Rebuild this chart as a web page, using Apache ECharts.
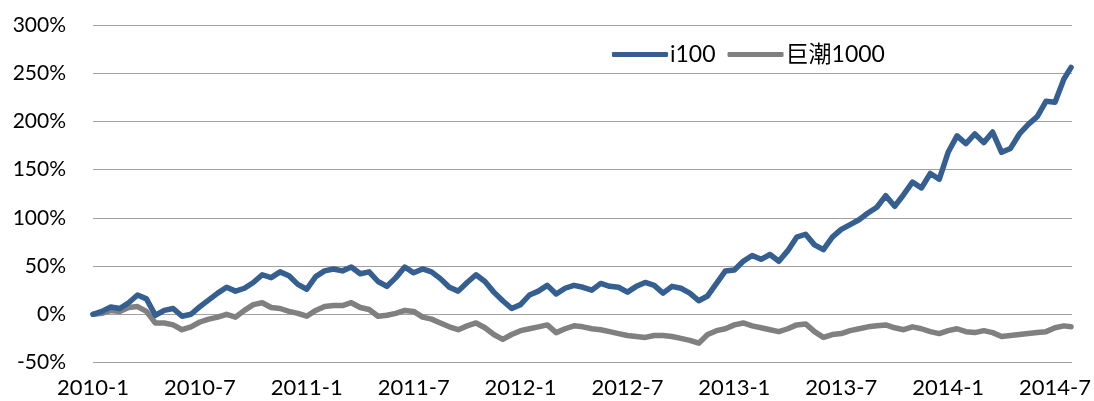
<!DOCTYPE html>
<html>
<head>
<meta charset="utf-8">
<script src="https://cdn.jsdelivr.net/npm/echarts@6/dist/echarts.min.js"></script>
<style>
html,body{margin:0;padding:0;background:#fff;}
#chart{width:1094px;height:401px;}
</style>
</head>
<body>
<div id="chart"></div>
<script>
// month offsets from 2010-1
var months = [0,0.5,1,1.5,2,2.5,3,3.5,4,4.5,5,5.5,6,6.5,7,7.5,8,8.5,9,9.5,10,10.5,11,11.5,12,12.5,13,13.5,14,14.5,15,15.5,16,16.5,17,17.5,18,18.5,19,19.5,20,20.5,21,21.5,22,22.5,23,23.5,24,24.5,25,25.5,26,26.5,27,27.5,28,28.5,29,29.5,30,30.5,31,31.5,32,32.5,33,33.5,34,34.5,35,35.5,36,36.5,37,37.5,38,38.5,39,39.5,40,40.5,41,41.5,42,42.5,43,43.5,44,44.5,45,45.5,46,46.5,47,47.5,48,48.5,49,49.5,50,50.5,51,51.5,52,52.5,53,53.5,54,54.5,54.9];
var i100 = [0,3,7.5,6,12,20,16,-1,4,6,-2,0,8,15,22,28,24,27,33,41,38,44,40,31,26,39,45,47,45,49,42,44,34,29,38,49,43,47,44,37,28,24,33,41,34,23,14,6,10,20,24,30,21,27,30,28,25,32,29,28,23,29,33,30,22,29,27,22,14,19,32,45,46,55,61,57,62,55,66,80,83,72,67,80,88,93,98,105,111,123,112,124,137,131,146,140,168,185,177,187,178,189,168,172,187,197,205,221,220,244,256];
var juchao1000 = [0,1,4,3,7,8,3,-9,-9,-11,-16,-13,-8,-5,-3,0,-3,4,10,12,7,6,3,1,-2,4,8,9,9,12,7,5,-2,-1,1,4,3,-3,-5,-9,-13,-16,-12,-9,-14,-21,-26,-21,-17,-15,-13,-11,-19,-15,-12,-13,-15,-16,-18,-20,-22,-23,-24,-22,-22,-23,-25,-27,-30,-21,-17,-15,-11,-9,-12,-14,-16,-18,-15,-11,-10,-18,-24,-21,-20,-17,-15,-13,-12,-11,-14,-16,-13,-15,-18,-20,-17,-15,-18,-19,-17,-19,-23,-22,-21,-20,-19,-18,-14,-12,-13];
var xLabels = ['2010-1','2010-7','2011-1','2011-7','2012-1','2012-7','2013-1','2013-7','2014-1','2014-7'];
var seriesNames = ['i100','巨潮1000'];

function pairs(xs, ys){ return xs.map(function(x,i){ return [x, ys[i]]; }); }

var chart = echarts.init(document.getElementById('chart'));
var FONT = 'Lato, "Noto Sans CJK SC", sans-serif';
chart.setOption({
  animation: false,
  backgroundColor: '#ffffff',
  grid: { left: 93, right: 16, top: 25, bottom: 38.5, containLabel: false },
  legend: {
    left: 607, top: 38,
    itemWidth: 56, itemHeight: 5, itemGap: 12,
    icon: 'roundRect',
    textStyle: { fontFamily: FONT, fontSize: 23, color: '#000', padding: [0,0,0,-3] },
    data: seriesNames
  },
  xAxis: {
    type: 'value', min: 0, max: 54.95, interval: 6,
    axisLine: { show: false }, axisTick: { show: false }, splitLine: { show: false },
    axisLabel: {
      margin: 14, fontFamily: FONT, fontSize: 22, color: '#000',
      showMaxLabel: false,
      formatter: function(v){
        var k = Math.round(v/6);
        if (Math.abs(v - k*6) > 1e-6) return '';
        return xLabels[k] || '';
      }
    }
  },
  yAxis: {
    type: 'value', min: -50, max: 300, interval: 50,
    axisLine: { show: false }, axisTick: { show: false },
    splitLine: { lineStyle: { color: '#a0a0a0', width: 1.2 } },
    axisLabel: { margin: 27, fontFamily: FONT, fontSize: 21, color: '#000',
      formatter: function(v){ return v + '%'; } }
  },
  series: [
    { name: seriesNames[0], type: 'line', data: pairs(months, i100), showSymbol: false, symbol: 'none',
      lineStyle: { color: '#355f91', width: 5.5, join: 'round', cap: 'round' }, itemStyle: { color: '#355f91' }, z: 3 },
    { name: seriesNames[1], type: 'line', data: pairs(months, juchao1000), showSymbol: false, symbol: 'none',
      lineStyle: { color: '#808080', width: 5.5, join: 'round', cap: 'round' }, itemStyle: { color: '#808080' }, z: 2 }
  ]
});
</script>
</body>
</html>
